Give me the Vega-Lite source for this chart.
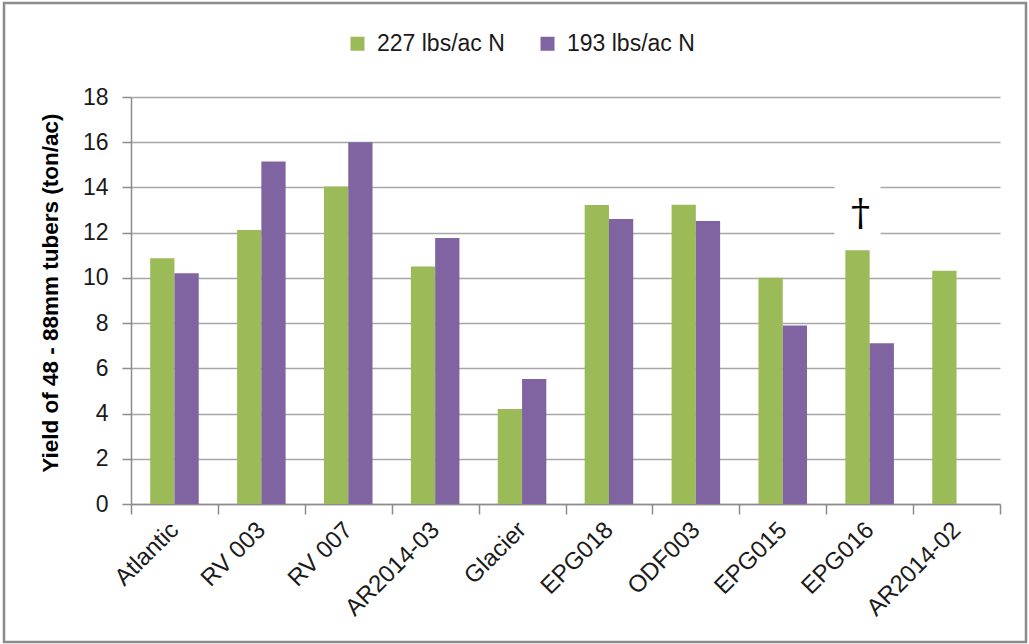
{
  "$schema": "https://vega.github.io/schema/vega-lite/v6.json",
  "autosize": {"type": "none"},
  "width": 1022,
  "height": 639,
  "padding": {"left": 4, "top": 3, "right": 3, "bottom": 2},
  "background": "white",
  "config": {
    "view": {"stroke": "#8c8c8c", "strokeWidth": 2.5},
    "font": "Liberation Sans"
  },
  "layer": [
    {
      "data": {
        "values": [
          {"variety": "Atlantic", "series": "227 lbs/ac N", "yield": 10.87},
          {"variety": "Atlantic", "series": "193 lbs/ac N", "yield": 10.21},
          {"variety": "RV 003", "series": "227 lbs/ac N", "yield": 12.12},
          {"variety": "RV 003", "series": "193 lbs/ac N", "yield": 15.15},
          {"variety": "RV 007", "series": "227 lbs/ac N", "yield": 14.04},
          {"variety": "RV 007", "series": "193 lbs/ac N", "yield": 16.0},
          {"variety": "AR2014-03", "series": "227 lbs/ac N", "yield": 10.5},
          {"variety": "AR2014-03", "series": "193 lbs/ac N", "yield": 11.76},
          {"variety": "Glacier", "series": "227 lbs/ac N", "yield": 4.2},
          {"variety": "Glacier", "series": "193 lbs/ac N", "yield": 5.53},
          {"variety": "EPG018", "series": "227 lbs/ac N", "yield": 13.22},
          {"variety": "EPG018", "series": "193 lbs/ac N", "yield": 12.6},
          {"variety": "ODF003", "series": "227 lbs/ac N", "yield": 13.23},
          {"variety": "ODF003", "series": "193 lbs/ac N", "yield": 12.52},
          {"variety": "EPG015", "series": "227 lbs/ac N", "yield": 10.01},
          {"variety": "EPG015", "series": "193 lbs/ac N", "yield": 7.89},
          {"variety": "EPG016", "series": "227 lbs/ac N", "yield": 11.22},
          {"variety": "EPG016", "series": "193 lbs/ac N", "yield": 7.11},
          {"variety": "AR2014-02", "series": "227 lbs/ac N", "yield": 10.32}
        ]
      },
      "mark": {"type": "bar"},
      "encoding": {
        "x": {
          "field": "variety",
          "type": "nominal",
          "scale": {
            "domain": ["Atlantic", "RV 003", "RV 007", "AR2014-03", "Glacier", "EPG018", "ODF003", "EPG015", "EPG016", "AR2014-02"],
            "range": [127, 996],
            "paddingInner": 0,
            "paddingOuter": 0
          },
          "axis": {
            "title": null,
            "orient": "bottom",
            "offset": -138,
            "grid": false,
            "tickBand": "extent",
            "tickSize": 10,
            "tickWidth": 1.5,
            "tickColor": "#8c8c8c",
            "domainColor": "#8c8c8c",
            "domainWidth": 1.5,
            "labelAngle": -45,
            "labelAlign": "right",
            "labelBaseline": "middle",
            "labelFontSize": 24,
            "labelColor": "#1a1a1a",
            "labelPadding": 12,
            "labelFont": "Liberation Sans"
          }
        },
        "xOffset": {
          "field": "series",
          "type": "nominal",
          "scale": {"domain": ["227 lbs/ac N", "193 lbs/ac N"], "paddingInner": 0, "paddingOuter": 0.79}
        },
        "y": {
          "field": "yield",
          "type": "quantitative",
          "scale": {"domain": [0, 18], "range": [501, 94], "nice": false, "zero": true},
          "axis": {
            "title": "Yield of 48 - 88mm tubers (ton/ac)",
            "orient": "left",
            "offset": -127,
            "values": [0, 2, 4, 6, 8, 10, 12, 14, 16, 18],
            "grid": true,
            "gridColor": "#a6a6a6",
            "gridWidth": 1.5,
            "tickSize": 9,
            "tickWidth": 1.5,
            "tickColor": "#8c8c8c",
            "domainColor": "#8c8c8c",
            "domainWidth": 1.5,
            "labelFontSize": 23,
            "labelColor": "#1a1a1a",
            "labelPadding": 14,
            "labelFont": "Liberation Sans",
            "titleFont": "Liberation Sans",
            "titleFontSize": 22.5,
            "titleFontWeight": "bold",
            "titleColor": "#000000",
            "titleAngle": -90,
            "titleAlign": "center",
            "titleBaseline": "middle",
            "titleX": -81,
            "titleY": 289.5
          }
        },
        "color": {
          "field": "series",
          "type": "nominal",
          "scale": {"domain": ["227 lbs/ac N", "193 lbs/ac N"], "range": ["#9BBB59", "#8064A2"]},
          "legend": {
            "orient": "none",
            "legendX": 342,
            "legendY": 29,
            "direction": "horizontal",
            "title": null,
            "symbolType": "square",
            "symbolSize": 196,
            "symbolStrokeWidth": 0,
            "labelFontSize": 23,
            "labelFont": "Liberation Sans",
            "labelColor": "#1a1a1a",
            "labelOffset": 8,
            "columnPadding": 31,
            "padding": 0
          }
        }
      }
    },
    {
      "data": {"values": [{"variety": "EPG016", "series": "227 lbs/ac N", "note": "†"}]},
      "mark": {"type": "bar", "fill": "white", "width": 46},
      "encoding": {
        "x": {"field": "variety", "type": "nominal"},
        "xOffset": {"field": "series", "type": "nominal"},
        "y": {"datum": 14.3},
        "y2": {"datum": 11.6}
      }
    },
    {
      "data": {"values": [{"variety": "EPG016", "series": "227 lbs/ac N", "note": "†"}]},
      "mark": {"type": "text", "font": "DejaVu Serif", "fontSize": 38, "color": "#000000", "baseline": "alphabetic", "align": "center", "dx": 3},
      "encoding": {
        "x": {"field": "variety", "type": "nominal"},
        "xOffset": {"field": "series", "type": "nominal"},
        "y": {"datum": 12.35},
        "text": {"field": "note"}
      }
    }
  ]
}
